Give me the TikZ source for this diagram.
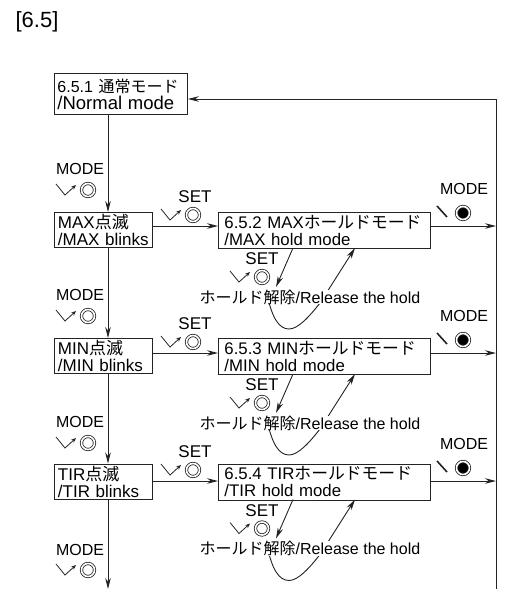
\documentclass[tikz,border=0pt]{standalone}
\usepackage{fontspec}
\setmainfont{Liberation Sans}
\newfontfamily\jpfont{Noto Sans CJK JP}
\usetikzlibrary{arrows.meta,calc}
\definecolor{inkline}{RGB}{35,35,35}
\tikzset{
  flow/.style={-{Stealth[length=11pt,width=5.5pt]},draw=inkline,line width=.9pt},
  ticktip/.style={-{Stealth[length=5pt,width=4pt]},draw=inkline,line width=.8pt},
  pushtick/.style={line width=1.6pt,draw=inkline},
  statebox/.style={draw=inkline,line width=.9pt,fill=white,anchor=north west,inner ysep=0pt,inner xsep=3pt,align=left,font=\fontsize{17}{17}\selectfont},
  holdbox/.style={statebox,inner xsep=6pt,text width=200pt,minimum height=36pt,font=\fontsize{16.8}{17}\selectfont},
  blinkbox/.style={statebox,inner xsep=3.5pt,text width=91pt,minimum height=35pt},
  keylabel/.style={inner sep=0pt,font=\fontsize{16}{16}\selectfont},
  setlabel/.style={inner sep=0pt,font=\fontsize{17}{17}\selectfont},
  releaselabel/.style={inner sep=0pt,fill=white,font=\fontsize{16}{16}\selectfont},
  ring/.style={circle,draw=inkline,double,line width=.8pt,double distance=1.6pt,minimum size=13pt,inner sep=0pt},
  pressedring/.style={ring,fill=black}
}

\begin{document}
\begin{tikzpicture}[x=1pt,y=-1pt]
\useasboundingbox (0,0) rectangle (505,589);
\newcommand{\tickmark}[3]{%
\node[ring] (#1) at (#2,#3) {};
\draw[ticktip] (#1) ++(-32,-6) -- ++(9,11) -- ++(11,-10);}
\newcommand{\holdrow}[6]{%
\begin{scope}[shift={(0,#5)}]
\coordinate (rail#1) at (496,0);
\node[setlabel] (set#1) at (195,-29) {SET};
\tickmark{ring#1}{193}{-11}
\node[keylabel] (mode#1) at (464,-37) {MODE};
\node[pressedring] (press#1) at (463,-13) {};
\draw[pushtick] (press#1) ++(-26,-7) -- ++(10,11);
\end{scope}
\begin{scope}[shift={(0,#6)}]
\node[blinkbox] (blink#1) at (54,0) {#2};
\node[holdbox] (hold#1) at (218,0) {#3\\#4};
\node[setlabel] (holdset#1) at (262,47) {SET};
\tickmark{holdring#1}{262}{65}
\coordinate (down#1) at (293,36);
\coordinate (downend#1) at (276,75);
\coordinate (loopstart#1) at (267,82);
\coordinate (loopend#1) at (355,36);
\draw[flow] (down#1) -- (downend#1);
\draw[flow] (loopstart#1) .. controls (272,106) and (279,117) .. (289,117) .. controls (298,117) and (309,105) .. (320,91) -- (loopend#1);
\node[releaselabel] (release#1) at (310,85) {{\jpfont ホールド解除}/Release the hold};
\end{scope}
\draw[flow] (blink#1.east |- rail#1) -- (hold#1.west |- rail#1);
\draw[flow] (hold#1.east |- rail#1) -- (rail#1);}
\holdrow{MAX}{MAX{\jpfont 点滅}\\/MAX blinks}{6.5.2 MAX{\jpfont ホールドモード}}{/MAX hold mode}{226}{212}
\holdrow{MIN}{MIN{\jpfont 点滅}\\/MIN blinks}{6.5.3 MIN{\jpfont ホールドモード}}{/MIN hold mode}{353}{338}
\holdrow{TIR}{TIR{\jpfont 点滅}\\/TIR blinks}{6.5.4 TIR{\jpfont ホールドモード}}{/TIR hold mode}{481}{463.5}
\node[inner sep=0pt,font=\fontsize{22}{22}\selectfont] (title) at (37,22) {[6.5]};
\node[statebox,text width=127pt,minimum height=41pt] (normal) at (54,73) {{\fontsize{16}{16}\selectfont 6.5.1 {\jpfont 通常モード}}\\{\fontsize{18.5}{19}\selectfont /Normal mode}};
\coordinate (trunk) at (108,589);
\coordinate (railtop) at (496,99);
\coordinate (railend) at (496,589);
\draw[flow] (normal.south -| trunk) -- (blinkMAX.north -| trunk);
\draw[flow] (blinkMAX.south -| trunk) -- (blinkMIN.north -| trunk);
\draw[flow] (blinkMIN.south -| trunk) -- (blinkTIR.north -| trunk);
\draw[flow] (blinkTIR.south -| trunk) -- (trunk);
\draw[flow] (railtop) -- (railtop -| normal.east);
\draw[draw=inkline,line width=.9pt] (railtop) -- (railend);
% MODE keys on the left
\node[keylabel] (modeA) at (80,169) {MODE};
\tickmark{ringA}{88}{190}
\node[keylabel] (modeB) at (80,295) {MODE};
\tickmark{ringB}{88}{316}
\node[keylabel] (modeC) at (80,422) {MODE};
\tickmark{ringC}{88}{443}
\node[keylabel] (modeD) at (80,550) {MODE};
\tickmark{ringD}{88}{570}
\end{tikzpicture}
\end{document}
